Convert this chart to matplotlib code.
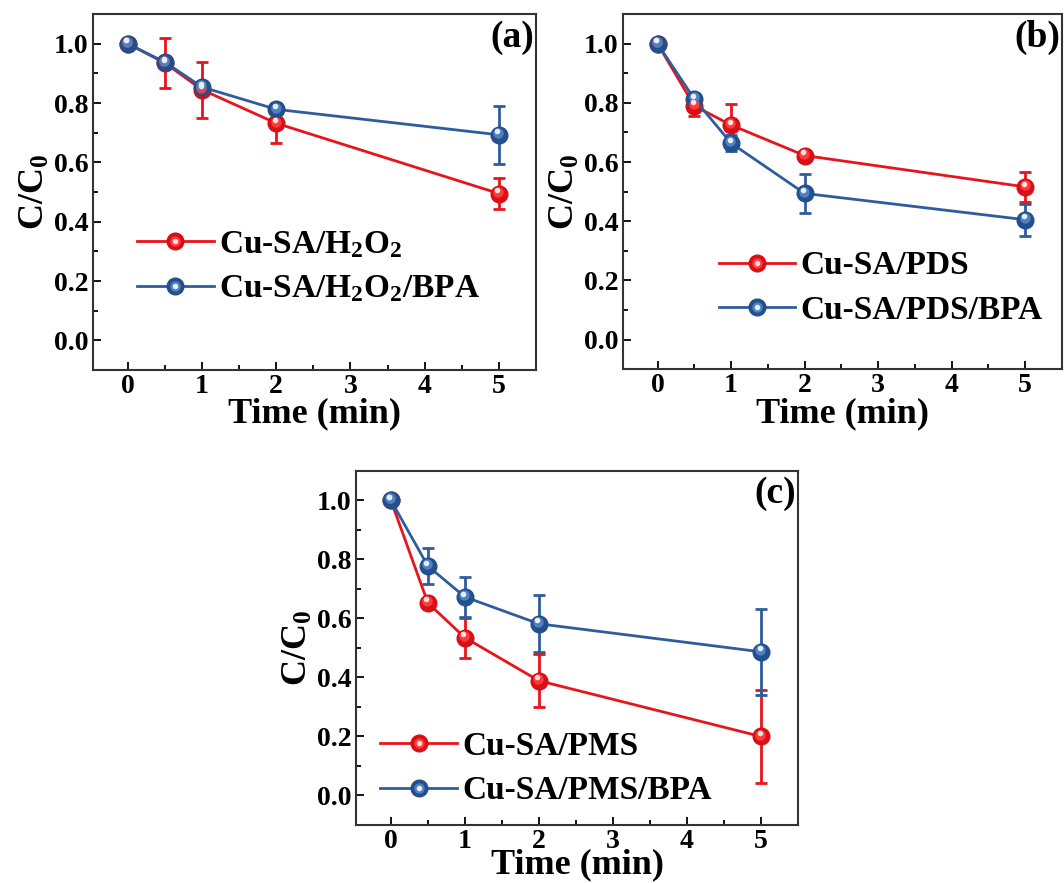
"""
Recreate C/C0 vs time panels (a)-(c).
"""

import matplotlib

matplotlib.use("Agg")
import matplotlib.pyplot as plt
from matplotlib.legend_handler import HandlerTuple
from matplotlib.lines import Line2D
from matplotlib.ticker import MultipleLocator
from matplotlib.transforms import ScaledTranslation

plt.rcParams["font.family"] = ["Liberation Serif", "DejaVu Serif"]
plt.rcParams["font.weight"] = "bold"
plt.rcParams["mathtext.default"] = "regular"

time = [0, 0.5, 1, 2, 5]

# (a) H2O2
a_red = [1.0, 0.935, 0.845, 0.732, 0.495]
a_red_err = [0.0, 0.083, 0.094, 0.066, 0.053]
a_blue = [1.0, 0.938, 0.854, 0.779, 0.693]
a_blue_err = [0.0, 0.008, 0.008, 0.008, 0.097]

# (b) PDS
b_red = [1.0, 0.79, 0.725, 0.622, 0.516]
b_red_err = [0.0, 0.035, 0.072, 0.008, 0.05]
b_blue = [1.0, 0.813, 0.664, 0.494, 0.405]
b_blue_err = [0.0, 0.008, 0.028, 0.065, 0.054]

# (c) PMS
c_red = [1.0, 0.652, 0.534, 0.388, 0.199]
c_red_err = [0.0, 0.008, 0.068, 0.09, 0.157]
c_blue = [1.0, 0.777, 0.672, 0.581, 0.486]
c_blue_err = [0.0, 0.062, 0.067, 0.097, 0.146]

PANELS = [
    ("(a)", a_red, a_red_err, a_blue, a_blue_err,
     "Cu-SA/H$_2$O$_2$", "Cu-SA/H$_2$O$_2$/BPA", (0.047, 0.29), -1),
    ("(b)", b_red, b_red_err, b_blue, b_blue_err,
     "Cu-SA/PDS", "Cu-SA/PDS/BPA", (0.165, 0.228), -1),
    ("(c)", c_red, c_red_err, c_blue, c_blue_err,
     "Cu-SA/PMS", "Cu-SA/PMS/BPA", (0.002, 0.158), -4),
]

# axes boxes in figure fraction (left, bottom, width, height)
BOXES = [
    (0.0874, 0.581, 0.4163, 0.403),
    (0.5855, 0.582, 0.4126, 0.402),
    (0.3346, 0.0660, 0.4154, 0.401),
]

RED = {"line": "#e8141c", "base": "#d80f17", "mid": "#ff3a3a", "hi": "#ffe0e0"}
BLUE = {"line": "#2f5d9c", "base": "#234f8c", "mid": "#4f80c2", "hi": "#e6eefa"}


def draw_series(ax, fig, y, err, col):
    ax.errorbar(time, y, yerr=err, color=col["line"], lw=2, capsize=4.5,
                capthick=2, elinewidth=2, marker="o", ms=12,
                mfc=col["base"], mec=col["base"], zorder=2)
    off1 = ax.transData + ScaledTranslation(-0.5 / 72, 1.2 / 72, fig.dpi_scale_trans)
    off2 = ax.transData + ScaledTranslation(-1 / 72, 2.4 / 72, fig.dpi_scale_trans)
    ax.plot(time, y, ls="none", marker="o", ms=7.5, mfc=col["mid"], mec="none",
            transform=off1, zorder=3)
    ax.plot(time, y, ls="none", marker="o", ms=4, mfc=col["hi"], mec="none",
            transform=off2, zorder=4)


def legend_handle(col):
    base = Line2D([], [], color=col["line"], lw=2, marker="o", ms=12,
                  mfc=col["base"], mec=col["base"])
    mid = Line2D([], [], ls="none", marker="o", ms=7.5, mfc=col["mid"], mec="none")
    hi = Line2D([], [], ls="none", marker="o", ms=4, mfc=col["hi"], mec="none")
    return (base, mid, hi)


fig = plt.figure(figsize=(10.64, 8.83), dpi=100)

for box, (tag, red, red_err, blue, blue_err, lab_r, lab_b, leg_pos, xpad) in zip(BOXES, PANELS):
    ax = fig.add_axes(box)
    draw_series(ax, fig, red, red_err, RED)
    draw_series(ax, fig, blue, blue_err, BLUE)

    ax.set_xlim(-0.47, 5.5)
    ax.set_ylim(-0.1, 1.1)
    ax.xaxis.set_major_locator(MultipleLocator(1))
    ax.xaxis.set_minor_locator(MultipleLocator(0.5))
    ax.yaxis.set_major_locator(MultipleLocator(0.2))
    ax.yaxis.set_minor_locator(MultipleLocator(0.1))
    ax.yaxis.set_major_formatter(lambda v, p: f"{v:.1f}")
    ax.tick_params(which="both", direction="in", top=False, right=False,
                   width=1.3, labelsize=20, pad=3)
    ax.tick_params(which="major", length=6)
    ax.tick_params(which="minor", length=3.5)
    for s in ax.spines.values():
        s.set_linewidth(1.5)
        s.set_color("#333333")

    ax.set_xlabel("Time (min)", fontsize=26, fontweight="bold", labelpad=xpad)
    ax.set_ylabel("C/C$_0$", fontsize=26, fontweight="bold", labelpad=2)
    ax.text(0.995, 0.935, tag, transform=ax.transAxes, ha="right", va="center",
            fontsize=27, fontweight="bold")

    ax.legend([legend_handle(RED), legend_handle(BLUE)], [lab_r, lab_b],
              handler_map={tuple: HandlerTuple(ndivide=1)},
              loc="center left", bbox_to_anchor=leg_pos, frameon=False,
              fontsize=24, handlelength=2.3, handletextpad=0.15,
              labelspacing=0.4, borderpad=0.2)

fig.savefig("out.png", dpi=100)
